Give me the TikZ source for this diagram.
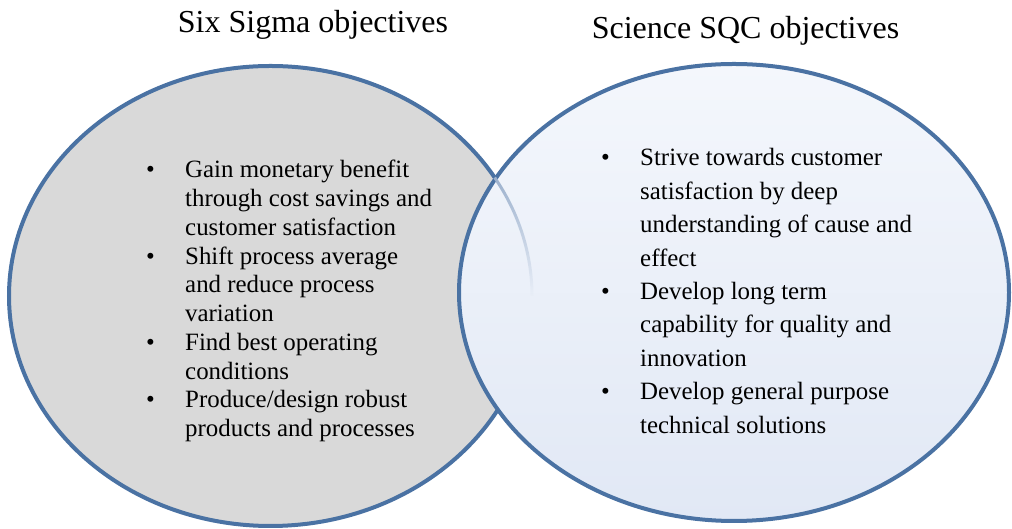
\documentclass[tikz,border=0pt]{standalone}
\usepackage{fontspec}
\setmainfont{Liberation Serif}
\usepackage{tikz}
\usetikzlibrary{shapes.geometric,fadings}
\definecolor{vennblue}{HTML}{4A72A3}
\definecolor{venngray}{HTML}{D9D9D9}
\definecolor{glasstop}{HTML}{F4F7FC}
\definecolor{glassmid}{HTML}{C6D5EE}
\definecolor{glassbot}{HTML}{E1E8F5}
\tikzstyle{setcircle} = [ellipse, draw=vennblue, line width=4pt, inner sep=0pt]
\tikzstyle{heading} = [anchor=base, inner sep=0pt, font=\fontsize{32}{38}\selectfont]
\tikzstyle{leftlist} = [anchor=base west, inner sep=0pt, font=\fontsize{24.9}{28.75}\selectfont]
\tikzstyle{rightlist} = [anchor=base west, inner sep=0pt, font=\fontsize{24.9}{33.4}\selectfont]

\begin{document}
\begin{tikzpicture}[x=1pt, y=1pt]
    \useasboundingbox (0,0) rectangle (1012,529);

    % Sets
    \node[setcircle, fill=venngray, minimum width=523pt, minimum height=460pt] (sixsigma) at (270.5,233) {};
    \node[setcircle, top color=glasstop, middle color=glassmid, bottom color=glassbot,
          minimum width=550pt, minimum height=457pt] (sqc) at (734,236.5) {};
    % edge of the first set seen through the glass
    \draw[vennblue!55, line width=3pt, path fading=south]
        ([shift={(31:261.5pt and 230pt)}]sixsigma.center) arc[start angle=31, end angle=0, x radius=261.5pt, y radius=230pt];

    % Headings
    \node[heading] (sixtitle) at (313,496) {Six Sigma objectives};
    \node[heading] (sqctitle) at (745.5,490) {Science SQC objectives};

    % Objectives
    \node[leftlist] (sixitems) at (146,351) {%
        \begin{tabular}[t]{@{}p{39pt}@{}l@{}}
        \textbullet & Gain monetary benefit\\
                    & through cost savings and\\
                    & customer satisfaction\\
        \textbullet & Shift process average\\
                    & and reduce process\\
                    & variation\\
        \textbullet & Find best operating\\
                    & conditions\\
        \textbullet & Produce/design robust\\
                    & products and processes
        \end{tabular}};
    \node[rightlist] (sqcitems) at (601,363) {%
        \begin{tabular}[t]{@{}p{39pt}@{}l@{}}
        \textbullet & Strive towards customer\\
                    & satisfaction by deep\\
                    & understanding of cause and\\
                    & effect\\
        \textbullet & Develop long term\\
                    & capability for quality and\\
                    & innovation\\
        \textbullet & Develop general purpose\\
                    & technical solutions
        \end{tabular}};
\end{tikzpicture}
\end{document}
